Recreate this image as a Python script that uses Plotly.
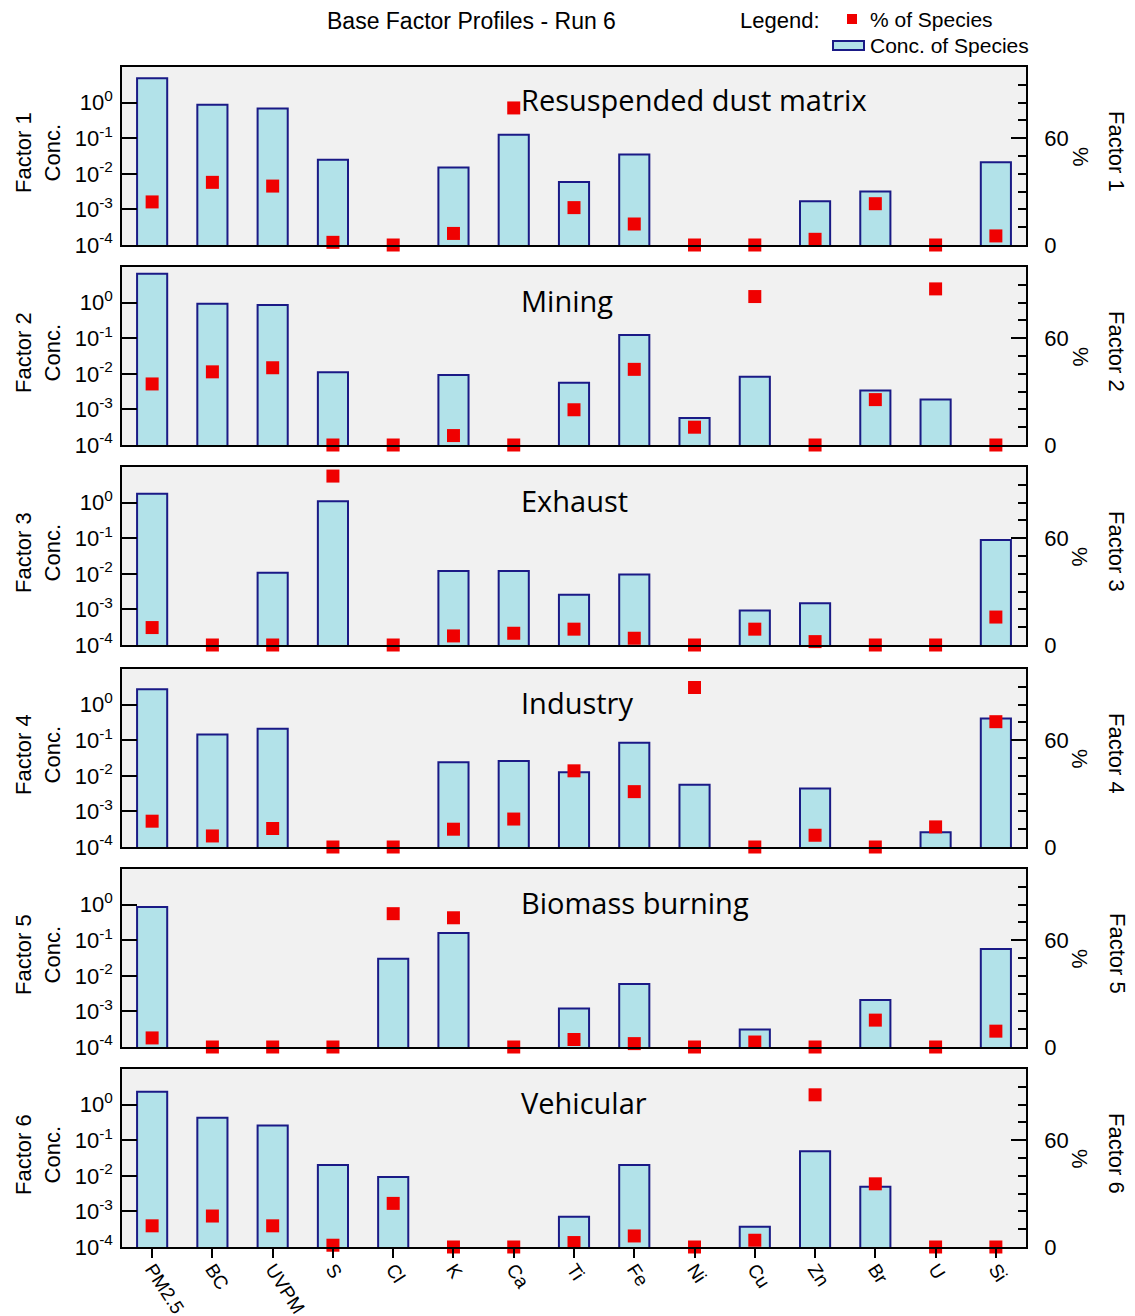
import plotly.graph_objects as go

categories = ["PM2.5", "BC", "UVPM", "S", "Cl", "K", "Ca", "Ti", "Fe", "Ni", "Cu", "Zn", "Br", "U", "Si"]
factor_labels = ["Factor 1", "Factor 2", "Factor 3", "Factor 4", "Factor 5", "Factor 6"]
source_names = ["Resuspended dust matrix", "Mining", "Exhaust", "Industry", "Biomass burning", "Vehicular"]

# Concentration of species (log axis); None = no bar
conc_f1 = [4.8, 0.87, 0.68, 0.025, None, 0.015, 0.126, 0.0059, 0.035, None, None, 0.0017, 0.0032, None, 0.021]
conc_f2 = [6.5, 0.93, 0.85, 0.011, None, 0.0093, None, 0.0056, 0.123, 0.00057, 0.0082, None, 0.0034, 0.0019, None]
conc_f3 = [1.76, None, 0.0107, 1.09, None, 0.0119, 0.0119, 0.0026, 0.0096, None, 0.00093, 0.0015, None, None, 0.089]
conc_f4 = [2.7, 0.145, 0.21, None, None, 0.024, 0.026, 0.0126, 0.085, 0.0056, None, 0.0044, None, 0.00026, 0.41]
conc_f5 = [0.85, None, None, None, 0.030, 0.16, None, 0.0012, 0.0059, None, 0.00031, None, 0.0021, None, 0.057]
conc_f6 = [2.3, 0.43, 0.26, 0.020, 0.0093, None, None, 0.00071, 0.020, None, 0.00037, 0.049, 0.0049, None, None]

# % of species (right axis)
pct_f1 = [24.2, 35.2, 33.1, 1.5, 0, 6.5, 77, 21, 11.8, 0, 0, 3.2, 23.2, 0, 5.1]
pct_f2 = [34.3, 41.1, 43.4, 0, 0, 5.3, 0, 19.8, 42.5, 10, 83.4, 0, 25.5, 87.7, 0]
pct_f3 = [9.8, 0, 0, 94.9, 0, 5.1, 6.6, 8.9, 3.8, 0, 8.9, 1.9, 0, 0, 15.7]
pct_f4 = [14.5, 6.2, 10.4, 0, 0, 10, 15.7, 42.8, 31.1, 89.6, 0, 6.6, 0, 11.3, 70.4]
pct_f5 = [5.1, 0, 0, 0, 74.9, 72.6, 0, 4.2, 1.9, 0, 2.8, 0, 15.1, 0, 8.9]
pct_f6 = [11.9, 17.4, 11.9, 1, 24.5, 0, 0, 2.5, 6.2, 0, 3.8, 85.5, 35.5, 0, 0]

conc_all = [conc_f1, conc_f2, conc_f3, conc_f4, conc_f5, conc_f6]
pct_all = [pct_f1, pct_f2, pct_f3, pct_f4, pct_f5, pct_f6]

log_tickvals = [1, 0.1, 0.01, 0.001, 0.0001]
log_ticktext = ["10<sup>0</sup>", "10<sup>-1</sup>", "10<sup>-2</sup>", "10<sup>-3</sup>", "10<sup>-4</sup>"]

W, H = 1135, 1316


def px(x):
    return x / W


def py(y):
    return 1 - y / H


X0, X1 = 122, 1026
panel_tops = [67, 267, 467, 669, 869, 1069]
PH = 178

BAR_FILL = "#b2e2e9"
BAR_LINE = "#1a1a86"
MARK = "#f00000"
FONT = "Liberation Sans, Arial, sans-serif"

fig = go.Figure()
layout = dict(
    width=W, height=H, autosize=False,
    margin=dict(l=0, r=0, t=0, b=0, pad=0, autoexpand=False),
    paper_bgcolor="white",
    plot_bgcolor="#f1f1f1",
    showlegend=False,
    font=dict(family=FONT, size=20, color="black"),
)
annotations = []
shapes = []

for i in range(6):
    n = i + 1
    xs = "x" if n == 1 else f"x{n}"
    ys = "y" if n == 1 else f"y{n}"
    ys2 = f"y{n + 6}"
    xkey = "xaxis" if n == 1 else f"xaxis{n}"
    ykey = "yaxis" if n == 1 else f"yaxis{n}"
    y2key = f"yaxis{n + 6}"

    fig.add_trace(go.Bar(
        x=categories, y=conc_all[i], xaxis=xs, yaxis=ys, width=0.5,
        marker=dict(color=BAR_FILL, line=dict(color=BAR_LINE, width=2)),
        name="Conc. of Species",
    ))
    fig.add_trace(go.Scatter(
        x=categories, y=pct_all[i], xaxis=xs, yaxis=ys2, mode="markers",
        marker=dict(symbol="square", size=13, color=MARK, line=dict(width=0)),
        cliponaxis=False, name="% of Species",
    ))

    top = panel_tops[i]
    dom = [py(top + PH), py(top)]
    last = (n == 6)
    layout[xkey] = dict(
        domain=[px(X0), px(X1)], type="category", categoryorder="array",
        categoryarray=categories, range=[-0.5, 14.5], anchor=ys,
        showline=True, mirror=True, linecolor="black", linewidth=1.5,
        showgrid=False, zeroline=False, automargin=False,
        ticks="outside" if last else "", ticklen=9, tickwidth=1.5, tickcolor="black",
        showticklabels=last, tickangle=57, ticklabelstandoff=-7,
        tickfont=dict(family=FONT, size=19),
    )
    layout[ykey] = dict(
        domain=dom, type="log", range=[-4, 1], anchor=xs,
        tickmode="array", tickvals=log_tickvals, ticktext=log_ticktext,
        ticks="inside", ticklen=15, tickwidth=1.5, tickcolor="black",
        showline=True, linecolor="black", linewidth=1.5, automargin=False,
        showgrid=False, zeroline=False, ticklabelstandoff=3,
        tickfont=dict(family=FONT, size=22),
    )
    layout[y2key] = dict(
        overlaying=ys, side="right", anchor=xs, range=[0, 100],
        tickmode="array", tickvals=[0, 60], ticktext=["0", "60"],
        ticks="inside", ticklen=15, tickwidth=1.5, tickcolor="black",
        minor=dict(tickvals=[10, 20, 30, 40, 50, 70, 80, 90], ticks="inside",
                   ticklen=8, tickwidth=1.5, tickcolor="black"),
        showline=True, linecolor="black", linewidth=1.5, automargin=False,
        showgrid=False, zeroline=False, ticklabelstandoff=12,
        tickfont=dict(family=FONT, size=22),
    )

    annotations.append(dict(
        text=f"{factor_labels[i]}<br>Conc.", xref="paper", yref="paper",
        x=px(38), y=py(top + PH / 2 - 3), textangle=-90, showarrow=False,
        font=dict(family=FONT, size=22), xanchor="center", yanchor="middle",
    ))
    annotations.append(dict(
        text="%", xref="paper", yref="paper", x=px(1080), y=py(top + 90),
        textangle=90, showarrow=False, font=dict(family=FONT, size=22),
        xanchor="center", yanchor="middle",
    ))
    annotations.append(dict(
        text=factor_labels[i], xref="paper", yref="paper", x=px(1117),
        y=py(top + 84), textangle=90, showarrow=False,
        font=dict(family=FONT, size=22), xanchor="center", yanchor="middle",
    ))
    annotations.append(dict(
        text=source_names[i], xref="paper", yref="paper", x=px(519),
        y=py(top + 33), showarrow=False,
        font=dict(family="Open Sans, Noto Sans, sans-serif", size=29),
        xanchor="left", yanchor="middle",
    ))

# title and legend
annotations.append(dict(
    text="Base Factor Profiles - Run 6", xref="paper", yref="paper",
    x=px(471), y=py(21), showarrow=False, font=dict(family=FONT, size=23),
    xanchor="center", yanchor="middle",
))
annotations.append(dict(
    text="Legend:", xref="paper", yref="paper", x=px(738), y=py(21),
    showarrow=False, font=dict(family=FONT, size=22), xanchor="left", yanchor="middle",
))
annotations.append(dict(
    text="% of Species", xref="paper", yref="paper", x=px(868), y=py(20),
    showarrow=False, font=dict(family=FONT, size=21), xanchor="left", yanchor="middle",
))
annotations.append(dict(
    text="Conc. of Species", xref="paper", yref="paper", x=px(868), y=py(46),
    showarrow=False, font=dict(family=FONT, size=21), xanchor="left", yanchor="middle",
))
shapes.append(dict(type="rect", xref="paper", yref="paper",
                   x0=px(847), x1=px(857), y0=py(24), y1=py(14),
                   fillcolor=MARK, line=dict(width=0)))
shapes.append(dict(type="rect", xref="paper", yref="paper",
                   x0=px(833), x1=px(864), y0=py(50), y1=py(41),
                   fillcolor=BAR_FILL, line=dict(color=BAR_LINE, width=2)))

layout["annotations"] = annotations
layout["shapes"] = shapes
fig.update_layout(**layout)
fig.write_html(
    "out.html",
    config={"displayModeBar": False, "responsive": False},
    post_script="document.body.style.margin='0px';",
)
